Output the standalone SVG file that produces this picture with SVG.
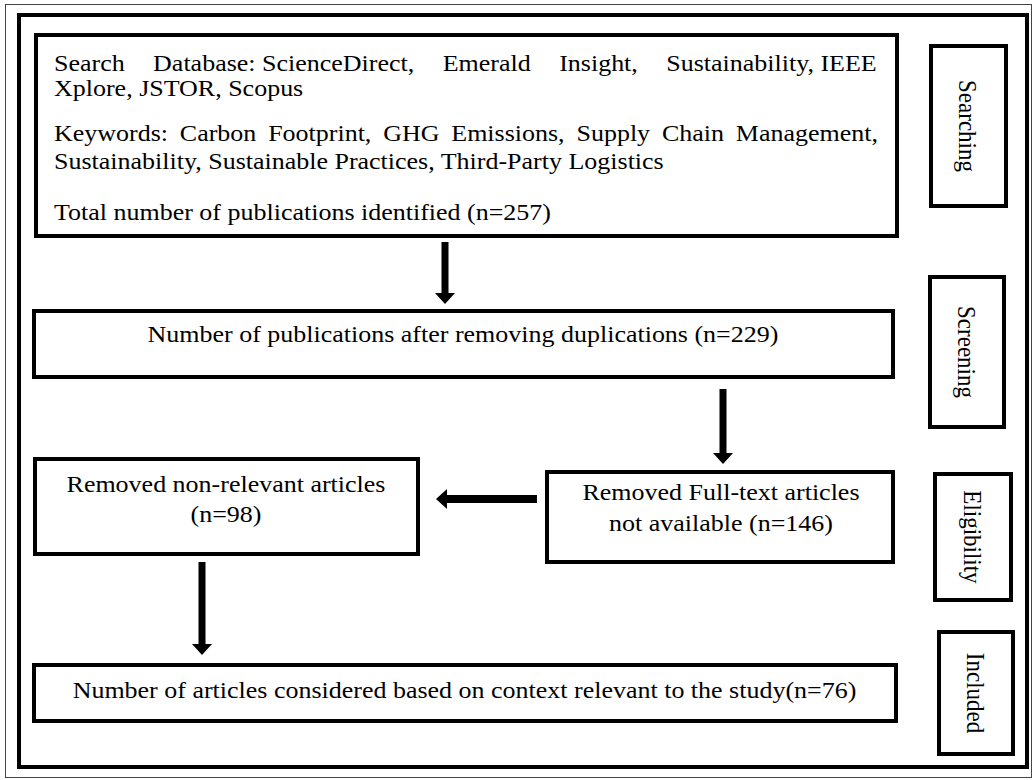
<svg xmlns="http://www.w3.org/2000/svg" width="1033" height="780" viewBox="0 0 1033 780">
<style>
.box{fill:#fff;stroke:#000;stroke-width:4}
.frame{fill:none;stroke:#000;stroke-width:4}
.thin{fill:none;stroke:#444;stroke-width:1}
.t{font-family:"Liberation Serif","Times New Roman",serif;font-size:23px;fill:#000}
.c{text-anchor:middle}
.v{text-anchor:middle;dominant-baseline:central}
.arrow{fill:#000;stroke:none}
</style>
<rect width="1033" height="780" fill="#fff"/>
<g id="frame">
<rect class="thin" x="5.5" y="4.5" width="1026" height="773"/>
<rect class="frame" x="19" y="15" width="1008" height="752"/>
</g>
<g id="search">
<rect class="box" x="36" y="35" width="861" height="201"/>
<text class="t" transform="scale(1.13 1)"><tspan x="47.79" y="71">Search</tspan><tspan x="135.49" y="71">Database: ScienceDirect,</tspan><tspan x="391.81" y="71">Emerald</tspan><tspan x="494.85" y="71">Insight,</tspan><tspan x="589.61" y="71">Sustainability, IEEE</tspan></text>
<text class="t" transform="scale(1.13 1)" x="47.79" y="96">Xplore, JSTOR, Scopus</text>
<text class="t" transform="scale(1.13 1)"><tspan x="47.79" y="141">Keywords:</tspan><tspan x="159.15" y="141">Carbon</tspan><tspan x="237.30" y="141">Footprint,</tspan><tspan x="339.12" y="141">GHG</tspan><tspan x="399.38" y="141">Emissions,</tspan><tspan x="510.15" y="141">Supply</tspan><tspan x="585.77" y="141">Chain</tspan><tspan x="651.16" y="141">Management,</tspan></text>
<text class="t" transform="scale(1.13 1)" x="47.79" y="169">Sustainability, Sustainable Practices, Third-Party Logistics</text>
<text class="t" transform="scale(1.13 1)" x="47.79" y="220">Total number of publications identified (n=257)</text>
</g>
<g id="dedup">
<rect class="box" x="34" y="311" width="859" height="66"/>
<text class="t c" transform="scale(1.13 1)" x="409.73" y="342">Number of publications after removing duplications (n=229)</text>
</g>
<g id="fulltext">
<rect class="box" x="547" y="472" width="346" height="90"/>
<text class="t c" transform="scale(1.13 1)" x="638.05" y="500">Removed Full-text articles</text>
<text class="t c" transform="scale(1.13 1)" x="638.05" y="531">not available (n=146)</text>
</g>
<g id="nonrelevant">
<rect class="box" x="35" y="459" width="383" height="95"/>
<text class="t c" transform="scale(1.13 1)" x="200" y="492">Removed non-relevant articles</text>
<text class="t c" transform="scale(1.13 1)" x="200" y="522">(n=98)</text>
</g>
<g id="included">
<rect class="box" x="34" y="665" width="862" height="56"/>
<text class="t c" transform="scale(1.13 1)" x="411.06" y="698">Number of articles considered based on context relevant to the study(n=76)</text>
</g>
<g id="label-searching">
<rect class="box" x="931" y="46" width="75" height="160"/>
<text class="t v" transform="translate(968 126) scale(1.13 1) rotate(90)">Searching</text>
</g>
<g id="label-screening">
<rect class="box" x="930" y="277" width="74" height="150"/>
<text class="t v" transform="translate(967 352) scale(1.13 1) rotate(90)">Screening</text>
</g>
<g id="label-eligibility">
<rect class="box" x="935" y="474" width="76" height="126"/>
<text class="t v" transform="translate(973 537) scale(1.13 1) rotate(90)">Eligibility</text>
</g>
<g id="label-included">
<rect class="box" x="939" y="632" width="74" height="122"/>
<text class="t v" transform="translate(976 693) scale(1.13 1) rotate(90)">Included</text>
</g>
<g id="connectors">
<path class="arrow" d="M441.5 242 H448.5 V293 H455 L445 304 L435 293 H441.5 Z"/>
<path class="arrow" d="M719.5 389 H726.5 V453 H733 L723 464 L713 453 H719.5 Z"/>
<path class="arrow" d="M537 495 V503 H447 V509 L436 499 L447 489 V495 Z"/>
<path class="arrow" d="M198.5 562 H205.5 V644 H212 L202 655 L192 644 H198.5 Z"/>
</g>
</svg>
